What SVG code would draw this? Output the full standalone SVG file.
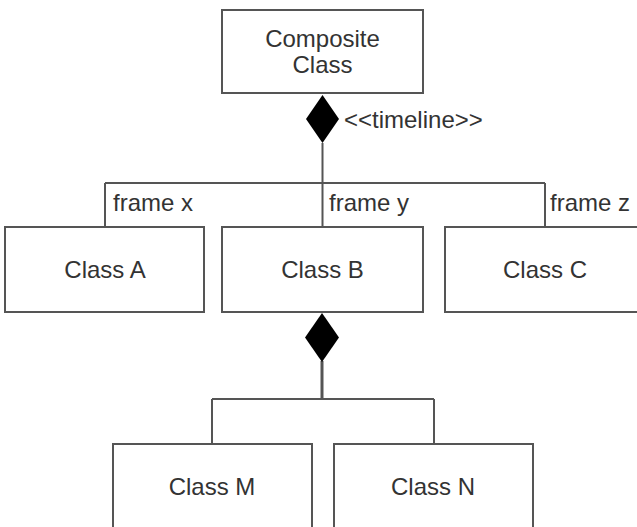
<svg xmlns="http://www.w3.org/2000/svg" width="637" height="527" viewBox="0 0 637 527">
<style>
.box{fill:#fff;stroke:#555;stroke-width:2}
.t{font-family:"Liberation Sans",Arial,sans-serif;font-size:24px;fill:#333}
.c{text-anchor:middle}
.ln{fill:none;stroke:#555;stroke-width:2}
.dm{fill:#000;stroke:none}
</style>
<rect width="637" height="527" fill="#fff"/>
<g id="connectors">
<path class="ln" d="M322.5,143 V183 M105,183 H545 M105,183 V227 M322.5,183 V227 M545,183 V227"/>
<polygon class="dm" points="322.5,95 339,119 322.5,143 306,119"/>
<path class="ln" d="M322,361 V399" style="stroke-width:3"/>
<path class="ln" d="M212,399 H434 M212,399 V444 M434,399 V444"/>
<polygon class="dm" points="322,313 339,337.5 322,362 305,337.5"/>
<text class="t" x="344" y="128">&lt;&lt;timeline&gt;&gt;</text>
<text class="t" x="113" y="211">frame x</text>
<text class="t" x="329" y="211">frame y</text>
<text class="t" x="550" y="211">frame z</text>
</g>
<g id="composite">
<rect class="box" x="222" y="10" width="201" height="83"/>
<text class="t c" x="322.5" y="47">Composite</text>
<text class="t c" x="322.5" y="73">Class</text>
</g>
<g id="classA">
<rect class="box" x="5" y="227" width="199" height="85"/>
<text class="t c" x="105" y="278">Class A</text>
</g>
<g id="classB">
<rect class="box" x="222" y="227" width="201" height="85"/>
<text class="t c" x="322.5" y="278">Class B</text>
</g>
<g id="classC">
<rect class="box" x="445" y="227" width="200" height="85"/>
<text class="t c" x="545" y="278">Class C</text>
</g>
<g id="classM">
<rect class="box" x="113" y="444" width="199" height="90"/>
<text class="t c" x="212" y="495">Class M</text>
</g>
<g id="classN">
<rect class="box" x="334" y="444" width="199" height="90"/>
<text class="t c" x="433" y="495">Class N</text>
</g>
</svg>
